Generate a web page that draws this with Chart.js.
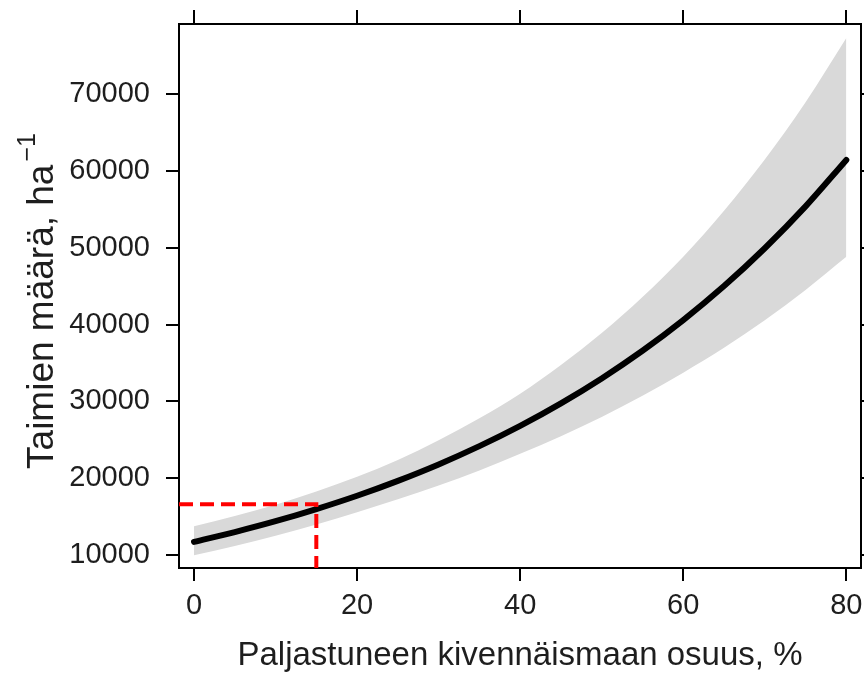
<!DOCTYPE html>
<html>
<head>
<meta charset="utf-8">
<script src="https://cdn.jsdelivr.net/npm/chart.js@4.4.1/dist/chart.umd.min.js"></script>
<style>
  html, body { margin: 0; padding: 0; background: #fff; }
  #wrap { width: 864px; height: 676px; }
</style>
</head>
<body>
<div id="wrap"><canvas id="chart" width="864" height="676"></canvas></div>
<script>
// Values
const shareX = [0, 5, 10, 15, 20, 25, 30, 35, 40, 45, 50, 55, 60, 65, 70, 75, 80];
const fitted = [11700, 12980, 14390, 15970, 17710, 19650, 21790, 24170, 26810, 29740, 32990, 36590, 40590, 45020, 49940, 55390, 61440];
const upper  = [13730, 15080, 16550, 18270, 20170, 22370, 24940, 27800, 30990, 34730, 38900, 43590, 48840, 54820, 61490, 68950, 77330];
const lower  = [9970, 11170, 12510, 13950, 15550, 17250, 19040, 21010, 23190, 25470, 27970, 30720, 33740, 36970, 40560, 44500, 48820];
// red guide: 15 % -> about 16600 seedlings
const guideX = 15;
const guideY = 16600;

const xTicks = [0, 20, 40, 60, 80];
const yTicks = [10000, 20000, 30000, 40000, 50000, 60000, 70000];

const xMin = -1.84, xMax = 81.8;
const yMin = 8300, yMax = 79140;

const textColor = '#1e1e1e';
const tickFont = { family: '"Liberation Sans Narrow", "Liberation Sans", Arial, sans-serif', size: 29 };

function pts(ys) {
    return shareX.map((x, i) => ({ x: x, y: ys[i] }));
}

// fixed box sizes so the plot frame lands where it is in the original
function fixSize(w, h) {
    return s => {
        if (w !== null) s.width = w;
        if (h !== null) s.height = h;
        s.paddingTop = 0;
        s.paddingBottom = 0;
        s.paddingLeft = 0;
        s.paddingRight = 0;
    };
}

// y axis title with a superscript -1
const yTitlePlugin = {
    id: 'yTitle',
    afterDraw(chart) {
        const ctx = chart.ctx;
        const main = 'Taimien määrä, ha';
        const sup = '\u22121';
        ctx.save();
        ctx.fillStyle = textColor;
        ctx.textBaseline = 'alphabetic';
        ctx.font = '37px "Liberation Sans", Arial, sans-serif';
        const wMain = ctx.measureText(main).width;
        ctx.font = '25px "Liberation Sans", Arial, sans-serif';
        const wSup = ctx.measureText(sup).width;
        const total = wMain + 3 + wSup;
        ctx.translate(53, 301);
        ctx.rotate(-Math.PI / 2);
        const start = -total / 2;
        ctx.font = '37px "Liberation Sans", Arial, sans-serif';
        ctx.fillText(main, start, 0);
        ctx.font = '25px "Liberation Sans", Arial, sans-serif';
        ctx.fillText(sup, start + wMain + 3, -18);
        ctx.restore();
    }
};

const tickGrid = {
    drawOnChartArea: false,
    drawTicks: true,
    tickLength: 13,
    color: '#000',
    lineWidth: 2
};
const frame = { display: true, color: '#000', width: 2 };

new Chart(document.getElementById('chart'), {
    type: 'line',
    data: {
        datasets: [
            {
                label: 'upper',
                data: pts(upper),
                order: 3,
                borderWidth: 0,
                pointRadius: 0,
                backgroundColor: '#d9d9d9',
                fill: '+1',
                cubicInterpolationMode: 'monotone'
            },
            {
                label: 'lower',
                data: pts(lower),
                order: 4,
                borderWidth: 0,
                pointRadius: 0,
                backgroundColor: '#d9d9d9',
                fill: false,
                cubicInterpolationMode: 'monotone'
            },
            {
                label: 'fit',
                data: pts(fitted),
                order: 2,
                borderColor: '#000',
                borderWidth: 6,
                borderCapStyle: 'round',
                pointRadius: 0,
                fill: false,
                cubicInterpolationMode: 'monotone'
            },
            {
                label: 'guide',
                data: [{ x: xMin, y: guideY }, { x: guideX, y: guideY }, { x: guideX, y: yMin }],
                order: 1,
                borderColor: '#ff0000',
                borderWidth: 4,
                borderDash: [14, 7],
                borderCapStyle: 'butt',
                pointRadius: 0,
                fill: false,
                tension: 0
            }
        ]
    },
    options: {
        responsive: false,
        animation: false,
        layout: { padding: 0 },
        plugins: {
            legend: { display: false },
            tooltip: { enabled: false }
        },
        scales: {
            x: {
                type: 'linear',
                position: 'bottom',
                min: xMin,
                max: xMax,
                afterBuildTicks: s => { s.ticks = xTicks.map(v => ({ value: v })); },
                afterFit: fixSize(null, 108),
                grid: tickGrid,
                border: frame,
                ticks: {
                    color: textColor,
                    font: tickFont,
                    padding: 8,
                    maxRotation: 0,
                    callback: v => String(v)
                },
                title: {
                    display: true,
                    text: 'Paljastuneen kivennäismaan osuus, %',
                    color: textColor,
                    font: { family: '"Liberation Sans", Arial, sans-serif', size: 33 },
                    padding: { top: 0, bottom: 0 }
                }
            },
            xTop: {
                type: 'linear',
                position: 'top',
                min: xMin,
                max: xMax,
                afterBuildTicks: s => { s.ticks = xTicks.map(v => ({ value: v })); },
                afterFit: fixSize(null, 24),
                grid: Object.assign({}, tickGrid, { tickLength: 14 }),
                border: frame,
                ticks: { display: false }
            },
            y: {
                type: 'linear',
                position: 'left',
                min: yMin,
                max: yMax,
                afterBuildTicks: s => { s.ticks = yTicks.map(v => ({ value: v })); },
                afterFit: fixSize(179, null),
                grid: tickGrid,
                border: frame,
                ticks: {
                    color: textColor,
                    font: tickFont,
                    padding: 16,
                    callback: v => String(v)
                }
            },
            yRight: {
                type: 'linear',
                position: 'right',
                min: yMin,
                max: yMax,
                afterBuildTicks: s => { s.ticks = yTicks.map(v => ({ value: v })); },
                afterFit: fixSize(3, null),
                grid: tickGrid,
                border: frame,
                ticks: { display: false }
            }
        }
    },
    plugins: [yTitlePlugin]
});
</script>
</body>
</html>
